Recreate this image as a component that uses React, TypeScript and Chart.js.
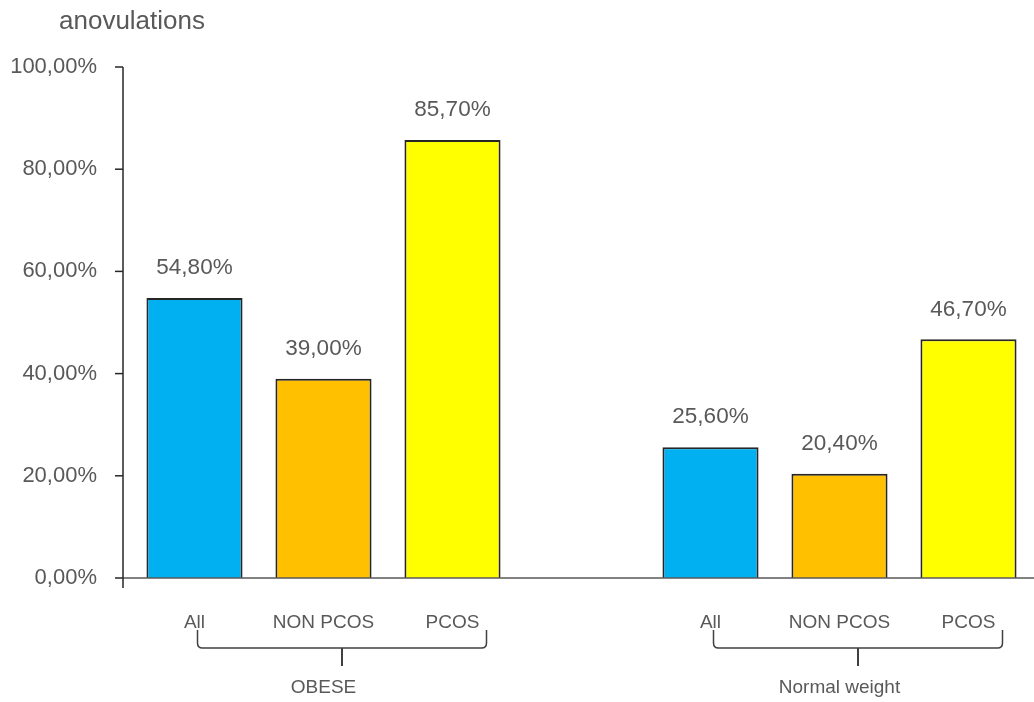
import React, { useEffect, useRef } from 'react';
import { Chart, registerables } from 'chart.js';

Chart.register(...registerables);

const categories = ['All', 'NON PCOS', 'PCOS', '', 'All', 'NON PCOS', 'PCOS'];
const values: (number | null)[] = [54.8, 39.0, 85.7, null, 25.6, 20.4, 46.7];
const barColors = ['#00B0F0', '#FFC000', '#FFFF00', 'rgba(0,0,0,0)', '#00B0F0', '#FFC000', '#FFFF00'];
const groupNames = ['OBESE', 'Normal weight'];
const groupStarts = [0, 4];
const groupEnds = [2, 6];
const yTicks = [0, 20, 40, 60, 80, 100];
const axisTitle = 'anovulations';

const FONT = "'Liberation Sans', Arial, sans-serif";
const TEXT = '#595959';

const fmt = (v: number) => v.toFixed(2).replace('.', ',') + '%';

const overlay = {
  id: 'overlay',
  afterDraw(chart: any) {
    const { ctx, chartArea: ca, scales } = chart;
    const xs = scales.x;
    const ys = scales.y;
    const axisX = ca.left - 7;
    const line = (x1: number, y1: number, x2: number, y2: number) => {
      ctx.beginPath();
      ctx.moveTo(x1, y1);
      ctx.lineTo(x2, y2);
      ctx.stroke();
    };
    ctx.save();
    // x axis
    ctx.strokeStyle = '#595959';
    ctx.lineWidth = 1.5;
    line(axisX, ca.bottom, chart.width, ca.bottom);
    // y axis
    ctx.strokeStyle = '#262626';
    line(axisX, ys.getPixelForValue(yTicks[yTicks.length - 1]), axisX, ca.bottom + 10);
    yTicks.forEach((t) => {
      const py = ys.getPixelForValue(t);
      line(axisX - 8, py, axisX, py);
    });

    // value labels
    ctx.fillStyle = TEXT;
    ctx.font = `22.5px ${FONT}`;
    ctx.textAlign = 'center';
    ctx.textBaseline = 'middle';
    const meta = chart.getDatasetMeta(0);
    meta.data.forEach((bar: any, i: number) => {
      const v = values[i];
      if (v == null) return;
      ctx.fillText(fmt(v), bar.x, bar.y - 30);
    });

    // group brackets
    ctx.strokeStyle = '#404040';
    ctx.lineWidth = 1.5;
    const top = ca.bottom + 52;
    const mid = ca.bottom + 70;
    const stem = ca.bottom + 88;
    const r = 5;
    groupNames.forEach((name, g) => {
      const x0 = xs.getPixelForValue(groupStarts[g]) + 3;
      const x1 = xs.getPixelForValue(groupEnds[g]) + 34;
      const xm = (x0 + x1) / 2;
      ctx.beginPath();
      ctx.moveTo(x0, top);
      ctx.lineTo(x0, mid - r);
      ctx.quadraticCurveTo(x0, mid, x0 + r, mid);
      ctx.lineTo(x1 - r, mid);
      ctx.quadraticCurveTo(x1, mid, x1, mid - r);
      ctx.lineTo(x1, top);
      ctx.stroke();
      ctx.lineWidth = 2;
      line(xm, mid, xm, stem);
      ctx.lineWidth = 1.5;
      const xc = xs.getPixelForValue((groupStarts[g] + groupEnds[g]) / 2);
      ctx.font = `19px ${FONT}`;
      ctx.fillText(name, xc, ca.bottom + 110);
    });

    // axis title
    ctx.font = `26px ${FONT}`;
    ctx.fillText(axisTitle, ca.left + 2, 22);
    ctx.restore();
  },
};

export default function App() {
  const ref = useRef<HTMLCanvasElement | null>(null);
  useEffect(() => {
    document.body.style.margin = '0';
    if (!ref.current) return;
    const chart = new Chart(ref.current, {
      type: 'bar',
      data: {
        labels: categories,
        datasets: [
          {
            data: values,
            backgroundColor: barColors,
            borderColor: '#262626',
            borderWidth: 2,
            categoryPercentage: 1,
            barPercentage: 0.745,
          },
        ],
      },
      options: {
        responsive: false,
        animation: false,
        layout: { padding: { top: 67, left: 0, right: 1, bottom: 44 } },
        plugins: { legend: { display: false }, tooltip: { enabled: false } },
        scales: {
          x: {
            grid: { display: false },
            border: { display: false },
            ticks: {
              font: { family: FONT, size: 19 },
              color: TEXT,
              padding: 25,
              maxRotation: 0,
              autoSkip: false,
            },
            afterFit: (s: any) => {
              s.height = 80;
            },
          },
          y: {
            min: 0,
            max: 100,
            grid: { display: false },
            border: { display: false },
            ticks: {
              stepSize: 20,
              padding: 25,
              font: { family: FONT, size: 22 },
              color: TEXT,
              callback: (v: any) => fmt(Number(v)),
            },
            afterFit: (s: any) => {
              s.width = 130;
            },
          },
        },
      } as any,
      plugins: [overlay],
    });
    return () => chart.destroy();
  }, []);
  return <canvas ref={ref} width={1034} height={702} />;
}
